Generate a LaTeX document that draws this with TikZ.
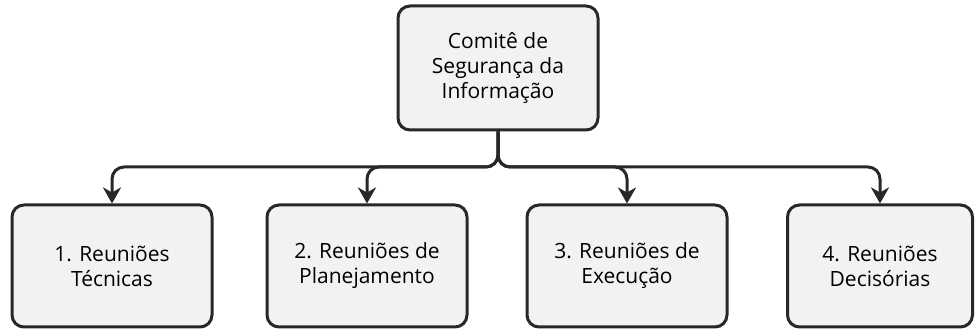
\documentclass[tikz,border=0pt]{standalone}
\usepackage{fontspec}
\setmainfont{Open Sans}
\usetikzlibrary{arrows.meta}
\definecolor{linegray}{RGB}{40,40,40}
\definecolor{boxfill}{RGB}{242,242,242}

\begin{document}
\begin{tikzpicture}[x=0.5pt,y=-0.5pt,
    box/.style={draw=linegray, line width=1.5pt, fill=boxfill, rounded corners=6pt,
      minimum width=100pt, minimum height=61pt, align=center,
      font=\fontsize{10.5}{12.5}\selectfont, text=black},
    link/.style={draw=linegray, line width=1.5pt, rounded corners=6pt,
      -{Stealth[length=8pt,width=9pt,inset=2.5pt]}}]
    \useasboundingbox (0,0) rectangle (975,330);
    \node[box, minimum height=62pt] (comite) at (498,68) {Comitê de\\Segurança da\\Informação};
    \node[box] (tecnicas) at (112,266) {1. Reuniões\\Técnicas};
    \node[box] (planejamento) at (367,266) {2. Reuniões de\\Planejamento};
    \node[box] (execucao) at (627,266) {3. Reuniões de\\Execução};
    \node[box, minimum width=92.5pt] (decisorias) at (880,266) {4. Reuniões\\Decisórias};
    \coordinate (juncao) at (498,167);
    \foreach \n in {tecnicas,planejamento,execucao,decisorias}
      \draw[link] (comite.south) -- (juncao) -| (\n.north);
\end{tikzpicture}
\end{document}
